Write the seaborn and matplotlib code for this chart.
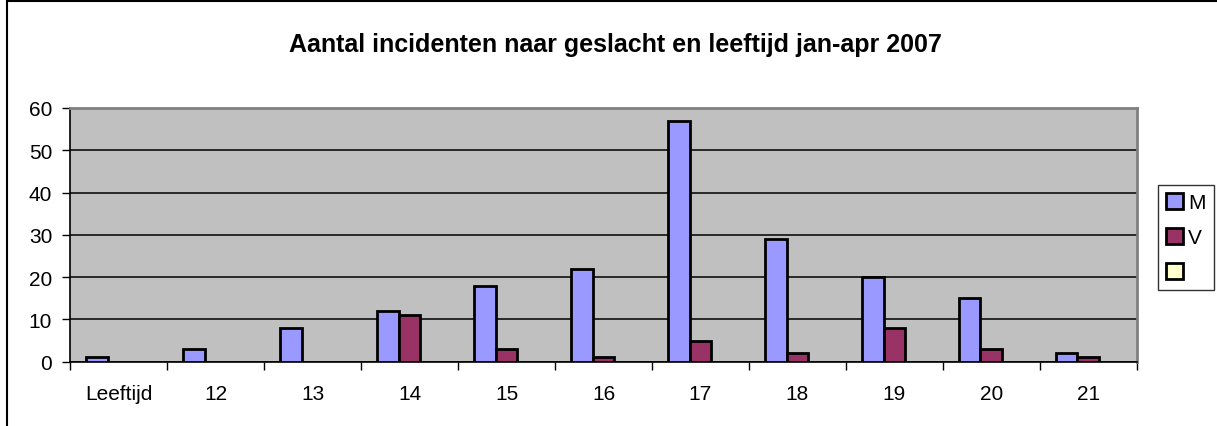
import matplotlib
matplotlib.use("Agg")
import matplotlib.pyplot as plt
from matplotlib.patches import Patch, Rectangle
import seaborn as sns
import pandas as pd
import numpy as np

categories = ["Leeftijd", "12", "13", "14", "15", "16", "17", "18", "19", "20", "21"]
m_values = [1, 3, 8, 12, 18, 22, 57, 29, 20, 15, 2]
v_values = [np.nan, np.nan, np.nan, 11, 3, 1, 5, 2, 8, 3, 1]
empty_values = [np.nan] * len(categories)
series_names = ["M", "V", "leeg"]
legend_labels = ["M", "V", ""]
colors = ["#9999FF", "#993366", "#FFFFCC"]
y_ticks = [0, 10, 20, 30, 40, 50, 60]
title = "Aantal incidenten naar geslacht en leeftijd jan-apr 2007"

df = pd.DataFrame({
    "cat": categories * 3,
    "val": m_values + v_values + empty_values,
    "series": [s for s in series_names for _ in categories],
})

sns.set_theme(style="white")
plt.rcParams["font.family"] = ["Liberation Sans", "DejaVu Sans"]
plt.rcParams["text.color"] = "black"
plt.rcParams["xtick.color"] = "black"
plt.rcParams["ytick.color"] = "black"
plt.rcParams["axes.labelcolor"] = "black"

W, H = 1217, 427
fig = plt.figure(figsize=(W / 100, H / 100), dpi=100)
ax = fig.add_axes([70.3 / W, 1 - 362.7 / H, (1136.7 - 70.3) / W, (362.7 - 109) / H])

sns.barplot(data=df, x="cat", y="val", hue="series", order=categories,
            hue_order=series_names, palette=colors, width=0.67,
            edgecolor="black", linewidth=2, errorbar=None, legend=False,
            ax=ax, zorder=3, saturation=1)

FS = 15
ax.set_facecolor("#C0C0C0")
ax.set_xlim(-0.5, len(categories) - 0.5)
ax.set_ylim(0, 60)
ax.set_yticks(y_ticks)
ax.set_yticklabels([str(t) for t in y_ticks], fontsize=FS)
ax.yaxis.grid(True, color="black", linewidth=1.1, zorder=1)
ax.set_axisbelow(True)
ax.set_xlabel("")
ax.set_ylabel("")

ax.set_xticks(range(len(categories)))
ax.set_xticklabels(categories, fontsize=FS)
ax.set_xticks(np.arange(-0.5, len(categories) - 0.4, 1), minor=True)
ax.tick_params(axis="x", which="major", length=0, pad=16)
ax.tick_params(axis="x", which="minor", length=6, width=1, color="black", direction="out", bottom=True)
ax.tick_params(axis="y", which="major", length=6, width=1, color="black", direction="out", left=True, pad=7)

for side in ["left", "bottom"]:
    ax.spines[side].set_color("black")
    ax.spines[side].set_linewidth(1.2)
for side in ["top", "right"]:
    ax.spines[side].set_color("#808080")
    ax.spines[side].set_linewidth(2)

fig.text(615 / W, 1 - 45 / H, title, ha="center", va="center",
         fontsize=18, fontweight="bold", color="black")

handles = [Patch(facecolor=c, edgecolor="black", linewidth=2) for c in colors]
leg = fig.legend(handles, legend_labels, loc="upper left",
                 bbox_to_anchor=(1158 / W, 1 - 185.7 / H),
                 frameon=True, fancybox=False, fontsize=FS,
                 handlelength=0.8, handleheight=0.8, handletextpad=0.25,
                 labelspacing=0.75, borderpad=0.4, borderaxespad=0)
leg.get_frame().set_edgecolor("black")
leg.get_frame().set_linewidth(1)
for t in leg.get_texts():
    t.set_color("black")

fig.patches.append(Rectangle((6.5 / W, -0.05), (1217 - 6.5) / W + 0.05, 1 - 2 / H + 0.05,
                             transform=fig.transFigure, fill=False,
                             edgecolor="black", linewidth=1.5, zorder=0))

fig.savefig("out.png", dpi=100)
